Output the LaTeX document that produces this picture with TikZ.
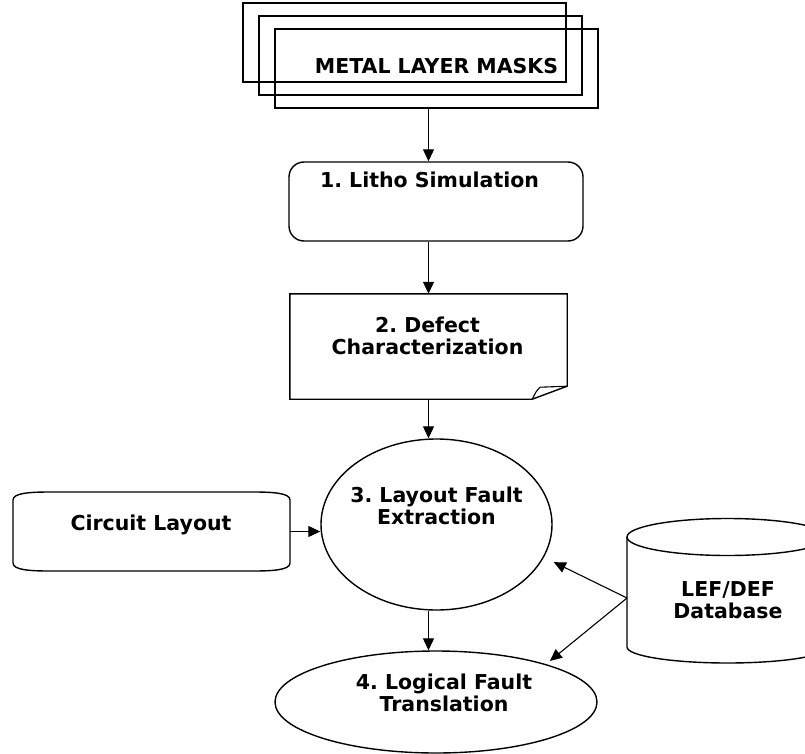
\documentclass[tikz,border=0pt]{standalone}
\usepackage{fontspec}
\setmainfont{DejaVu Sans}
\frenchspacing
\usetikzlibrary{arrows.meta,calc,shapes.geometric}
\tikzset{
>={Triangle[length=12pt,width=11pt]},
freccia/.style={->,line width=1.1pt},
box/.style={draw,line width=1.4pt,inner sep=0pt},
maschera/.style={box,minimum width=323pt,minimum height=79pt},
ellisse/.style={draw,ellipse,line width=1.4pt,inner sep=0pt},
testo/.style={font=\fontsize{20.5}{22}\selectfont\bfseries,align=center,anchor=base,inner sep=0pt}}

\begin{document}
\begin{tikzpicture}[x=1pt,y=-1pt]

\clip (0,0) rectangle (805,754);

      \node[maschera] (m1) at (404.5,42.5) {};
      \node[maschera] (m2) at (420.5,55.5) {};
      \node[maschera] (m3) at (436.5,68.5) {};
      \node[testo] (mt) at (436.5,74) {METAL LAYER MASKS};

      \node[box,rounded corners=15pt,minimum width=294pt,minimum height=79pt] (litho) at (436,201.5) {};
      \node[testo] (lithot) at (429.5,188) {1. Litho Simulation};

      \node[inner sep=0pt,minimum width=277pt,minimum height=105pt] (defect) at (428.5,346.5) {};
      \draw[line width=1.4pt] (defect.south west) -- (defect.north west) -- (defect.north east)
        -- ($(defect.south east)+(0,-13)$) -- ($(defect.south east)+(-35,0)$) -- cycle;
      \draw[line width=1.1pt] ($(defect.south east)+(-35,0)$) .. controls ($(defect.south east)+(-31,-8)$) .. ($(defect.south east)+(-27,-12)$)
        -- ($(defect.south east)+(0,-13)$);
      \node[testo] (defectt) at (427.5,354) {2. Defect\\Characterization};

      \node[inner sep=0pt,minimum width=277pt,minimum height=79pt] (circ) at (151.5,531.5) {};
      \draw[line width=1.4pt] (13,500) .. controls (13,493) and (30,492) .. (50,492) -- (253,492)
        .. controls (273,492) and (290,493) .. (290,500) -- (290,563)
        .. controls (290,570) and (273,571) .. (253,571) -- (50,571)
        .. controls (30,571) and (13,570) .. (13,563) -- cycle;
      \node[testo] (circt) at (151,530) {Circuit Layout};

      \node[ellisse,minimum width=231pt,minimum height=171pt] (ext) at (436.5,524.5) {};
      \node[testo] (extt) at (436.5,524) {3. Layout Fault\\Extraction};

      \node[ellisse,minimum width=322pt,minimum height=102pt] (trans) at (436,702) {};
      \node[testo] (transt) at (444,711) {4. Logical Fault\\Translation};

      \draw[line width=1.4pt] (727.5,537) ellipse [x radius=100.5,y radius=18.5];
      \draw[line width=1.4pt] (627,537) -- (627,647) arc[start angle=180,end angle=0,x radius=100.5,y radius=16] -- (828,537);
      \coordinate (dbw) at (627,598);
      \node[testo] (dbt) at (728,618) {LEF/DEF\\Database};

      \path[freccia] (m3.south -| defect) edge (litho.north -| defect)
        (litho.south -| defect) edge (defect.north)
        (defect.south) edge (ext.north -| defect)
        (ext.south -| defect) edge (trans.north -| defect)
        (circ.east) edge (circ.east -| ext.west);
      \path[freccia] (dbw) edge[shorten >=11pt] (ext.-17)
        (dbw) edge[shorten >=5pt] (trans.19);
\end{tikzpicture}
\end{document}
